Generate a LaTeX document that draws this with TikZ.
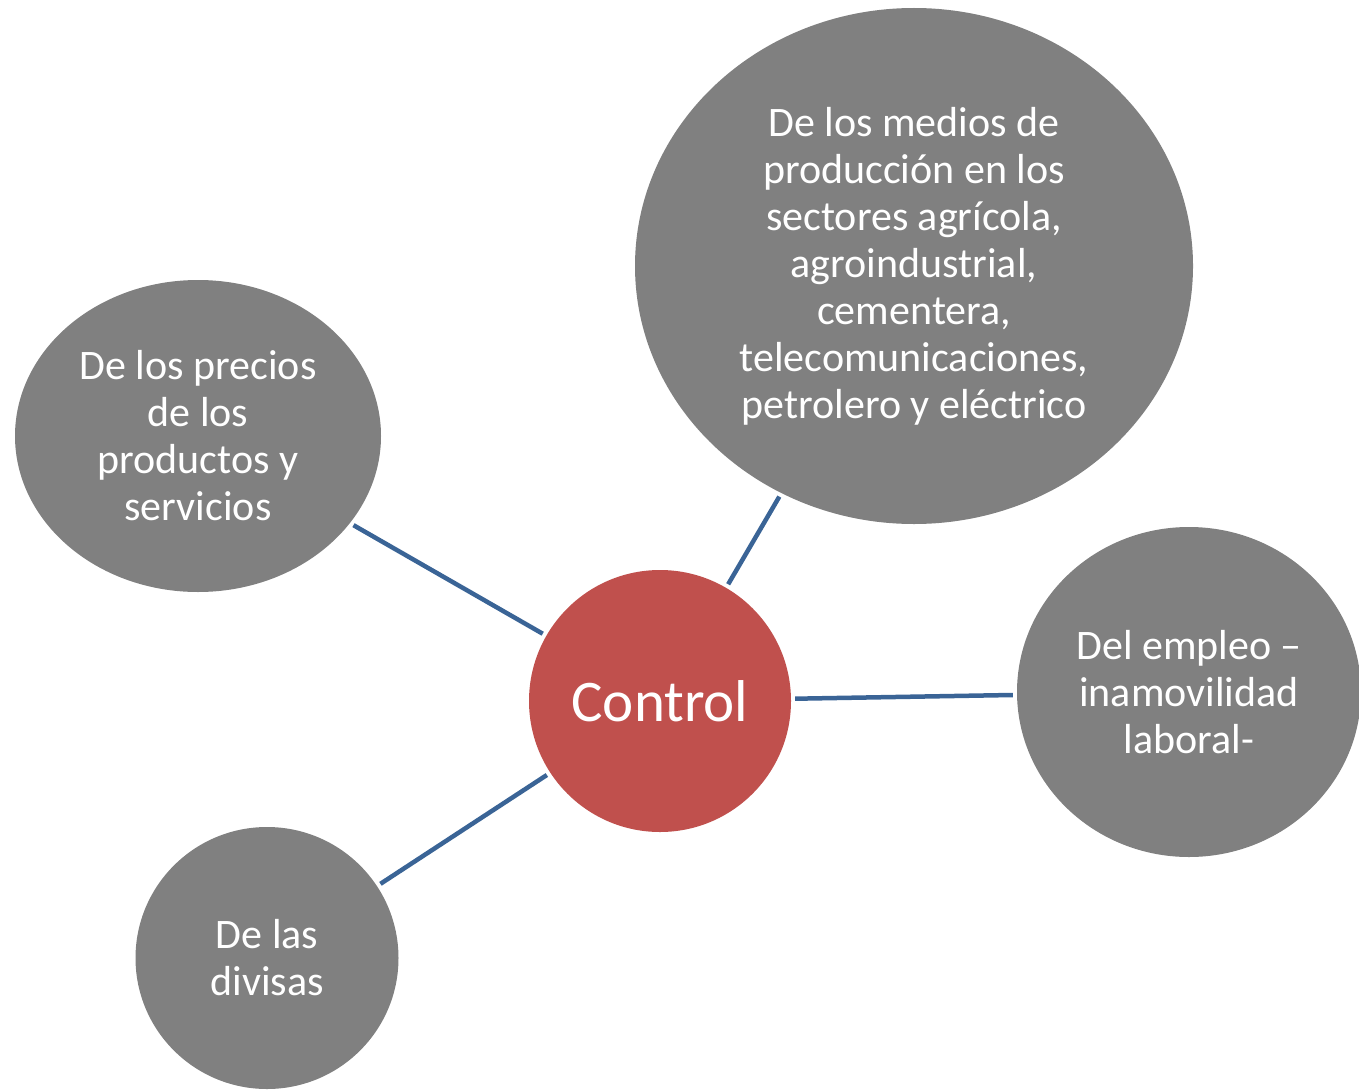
\documentclass[tikz,border=0pt]{standalone}
\usepackage{fontspec}
\setmainfont{Carlito}
\usetikzlibrary{shapes.geometric}
\definecolor{bubblegray}{HTML}{808080}
\definecolor{ctrlred}{HTML}{C0504D}
\definecolor{linkblue}{HTML}{3A6496}
\tikzset{
  bubble/.style={ellipse, fill=bubblegray, draw=none, inner sep=0pt, text=white,
    align=center, font=\fontsize{42}{47}\selectfont},
  hub/.style={circle, fill=ctrlred, draw=none, inner sep=0pt, text=white,
    minimum size=262pt, font=\fontsize{59}{66}\selectfont},
  link/.style={draw=linkblue, line width=4.5pt, shorten <=4pt, shorten >=4pt}
}
\begin{document}
\begin{tikzpicture}[x=1pt,y=-1pt]
\useasboundingbox (0,0) rectangle (1359,1089);
\node[hub] (ctrl) at (660,701) {Control};
\node[bubble, minimum width=558pt, minimum height=516pt] (top) at (914,266)
  {De los medios de\\producción en los\\sectores agrícola,\\agroindustrial,\\cementera,\\telecomunicaciones,\\petrolero y eléctrico};
\node[bubble, minimum width=366pt, minimum height=312pt] (left) at (198,436)
  {De los precios\\de los\\productos y\\servicios};
\node[bubble, minimum width=344pt, minimum height=330pt] (right) at (1189,692)
  {Del empleo –\\inamovilidad\\laboral-};
\node[bubble, minimum width=263pt, minimum height=262pt] (bot) at (267,958)
  {De las\\divisas};
\draw[link] (left) -- (ctrl);
\draw[link] (ctrl) -- (top);
\draw[link] (ctrl) -- (right);
\draw[link] (bot) -- (ctrl);
\end{tikzpicture}
\end{document}
